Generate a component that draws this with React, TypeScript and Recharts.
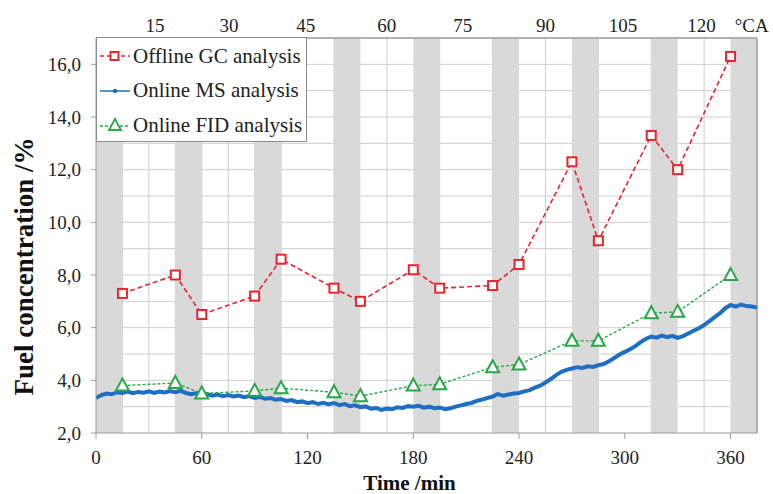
import React from 'react';
import {
  LineChart, Line, XAxis, YAxis, CartesianGrid, ReferenceArea, ReferenceLine, Legend,
} from 'recharts';

const FONT = '"Liberation Serif", "Times New Roman", serif';

// Offline GC and online FID sample times (min) and values (%)
const sampleTimes = [15, 45, 60, 90, 105, 135, 150, 180, 195, 225, 240, 270, 285, 315, 330, 360];
const gcValues = [7.3, 8.0, 6.5, 7.2, 8.6, 7.5, 7.0, 8.2, 7.5, 7.6, 8.4, 12.3, 9.3, 13.3, 12.0, 16.3];
const fidValues = [3.8, 3.9, 3.5, 3.6, 3.7, 3.55, 3.4, 3.8, 3.85, 4.5, 4.6, 5.5, 5.5, 6.55, 6.6, 8.0];

// Online MS continuous record
const msTimes = [
  0, 3, 6, 9, 12, 15, 18, 21, 24, 27, 30, 33, 36, 39, 42, 45, 48, 51, 54, 57,
  60, 63, 66, 69, 72, 75, 78, 81, 84, 87, 90, 93, 96, 99, 102, 105, 108, 111, 114, 117,
  120, 123, 126, 129, 132, 135, 138, 141, 144, 147, 150, 153, 156, 159, 162, 165, 168, 171, 174, 177,
  180, 183, 186, 189, 192, 195, 198, 201, 204, 207, 210, 213, 216, 219, 222, 225, 228, 231, 234, 237,
  240, 243, 246, 249, 252, 255, 258, 261, 264, 267, 270, 273, 276, 279, 282, 285, 288, 291, 294, 297,
  300, 303, 306, 309, 312, 315, 318, 321, 324, 327, 330, 333, 336, 339, 342, 345, 348, 351, 354, 357,
  360, 363, 366, 369, 372, 375,
];
const msValues = [
  3.33, 3.44, 3.50, 3.47, 3.55, 3.52, 3.57, 3.51, 3.56, 3.53, 3.58, 3.52, 3.57, 3.54, 3.59, 3.55, 3.60, 3.52, 3.47, 3.52,
  3.44, 3.48, 3.42, 3.46, 3.40, 3.44, 3.39, 3.42, 3.36, 3.40, 3.33, 3.37, 3.30, 3.33, 3.26, 3.29, 3.22, 3.25, 3.17, 3.20,
  3.13, 3.17, 3.10, 3.15, 3.09, 3.14, 3.06, 3.10, 3.02, 3.05, 2.98, 3.01, 2.92, 2.95, 2.88, 2.93, 2.90, 2.98, 2.95, 3.02,
  3.00, 3.03, 2.96, 3.00, 2.94, 2.97, 2.90, 2.94, 3.00, 3.05, 3.10, 3.14, 3.22, 3.27, 3.33, 3.38, 3.48, 3.42, 3.46, 3.50,
  3.52, 3.58, 3.63, 3.72, 3.80, 3.92, 4.05, 4.20, 4.32, 4.40, 4.45, 4.50, 4.47, 4.53, 4.51, 4.58, 4.62, 4.72, 4.85, 4.98,
  5.08, 5.18, 5.30, 5.45, 5.58, 5.66, 5.62, 5.70, 5.64, 5.69, 5.61, 5.68, 5.78, 5.88, 5.98, 6.10, 6.25, 6.40, 6.55, 6.74,
  6.86, 6.80, 6.88, 6.82, 6.80, 6.76,
];

// Axes
const timeTicks = [0, 60, 120, 180, 240, 300, 360];
const timeDomain = [0, 375];
const concTicks = [2, 4, 6, 8, 10, 12, 14, 16];
const concDomain = [2, 17];
const gridTimes = [15, 30, 45, 60, 75, 90, 105, 120, 135, 150, 165, 180, 195, 210, 225, 240, 255, 270, 285, 300, 315, 330, 345, 360, 375];
const gridConc = [3, 4, 5, 6, 7, 8, 9, 10, 11, 12, 13, 14, 15, 16, 17];

// Crank angle secondary scale (top)
const caTickTimes = [33.5, 75.5, 119, 165, 208, 255, 299, 343.5, 372];
const caTickLabels = ['15', '30', '45', '60', '75', '90', '105', '120', '°CA'];

// Shaded intervals (min)
const bandStarts = [0, 45, 90, 135, 180, 225, 270, 315, 360];
const bandEnds = [15, 60, 105, 150, 195, 240, 285, 330, 375];

const seriesNames = ['Offline GC analysis', 'Online MS analysis', 'Online FID analysis'];

const gcData = sampleTimes.map((t, i) => ({ t, v: gcValues[i] }));
const fidData = sampleTimes.map((t, i) => ({ t, v: fidValues[i] }));
const msData = msTimes.map((t, i) => ({ t, v: msValues[i] }));

const RED = '#e5262f';
const BLUE = '#1e6fc3';
const GREEN = '#26a847';

const SquareDot = (props: any) => {
  const { cx, cy } = props;
  if (cx == null || cy == null) return null;
  return <rect x={cx - 4.5} y={cy - 4.5} width={9} height={9} fill="#fff" stroke={RED} strokeWidth={2} />;
};

const TriangleDot = (props: any) => {
  const { cx, cy } = props;
  if (cx == null || cy == null) return null;
  return (
    <polygon
      points={`${cx},${cy - 7} ${cx - 6.5},${cy + 5} ${cx + 6.5},${cy + 5}`}
      fill="#fff"
      stroke={GREEN}
      strokeWidth={2}
    />
  );
};

const LegendIcon = ({ name }: { name: string }) => {
  if (name === seriesNames[0]) {
    return (
      <svg width={32} height={20}>
        <line x1={1} y1={10} x2={31} y2={10} stroke={RED} strokeWidth={1.5} strokeDasharray="4 3" />
        <rect x={11.5} y={6} width={8} height={8} fill="#fff" stroke={RED} strokeWidth={2} />
      </svg>
    );
  }
  if (name === seriesNames[1]) {
    return (
      <svg width={32} height={20}>
        <line x1={1} y1={10} x2={31} y2={10} stroke={BLUE} strokeWidth={1.5} />
        <circle cx={16} cy={10} r={2.2} fill={BLUE} />
      </svg>
    );
  }
  return (
    <svg width={32} height={20}>
      <line x1={1} y1={11} x2={31} y2={11} stroke={GREEN} strokeWidth={1.5} strokeDasharray="3 2" />
      <polygon points="16,4 10,15 22,15" fill="#fff" stroke={GREEN} strokeWidth={1.8} />
    </svg>
  );
};

const LegendBox = (props: any) => {
  const payload = (props.payload || []).slice().sort(
    (a: any, b: any) => seriesNames.indexOf(a.value) - seriesNames.indexOf(b.value),
  );
  return (
    <div
      style={{
        border: '1.5px solid #8c8c8c',
        background: '#fff',
        width: 211,
        height: 105,
        boxSizing: 'border-box',
        paddingTop: 1,
        paddingLeft: 2,
        fontFamily: FONT,
        fontSize: 21,
        color: '#222',
      }}
    >
      {payload.map((entry: any) => (
        <div key={entry.value} style={{ display: 'flex', alignItems: 'center', height: 34.5, whiteSpace: 'nowrap' }}>
          <LegendIcon name={entry.value} />
          <span style={{ marginLeft: 2 }}>{entry.value}</span>
        </div>
      ))}
    </div>
  );
};

const YTitle = (props: any) => {
  const vb = props.viewBox || { x: 0, y: 0, width: 0, height: 0 };
  const x = vb.x + 24;
  const y = vb.y + vb.height / 2 + 31;
  return (
    <text
      x={x}
      y={y}
      transform={`rotate(-90 ${x} ${y})`}
      textAnchor="middle"
      dominantBaseline="central"
      fontFamily={FONT}
      fontWeight="bold"
      fontSize={27}
      fill="#111"
    >
      Fuel concentration /%
    </text>
  );
};

const XTitle = (props: any) => {
  const vb = props.viewBox || { x: 0, y: 0, width: 0, height: 0 };
  return (
    <text
      x={vb.x + vb.width / 2 - 17}
      y={vb.y + 57}
      textAnchor="middle"
      fontFamily={FONT}
      fontWeight="bold"
      fontSize={21}
      fill="#111"
    >
      Time /min
    </text>
  );
};

export default function App() {
  return (
    <div style={{ position: 'absolute', left: 0, top: 0, width: 773, height: 494, background: '#fff' }}>
      <LineChart
        width={773}
        height={494}
        margin={{ top: 8, right: 16, bottom: 31, left: 0 }}
        style={{ fontFamily: FONT }}
      >
        {bandStarts.map((s, i) => (
          <ReferenceArea
            key={s}
            x1={s}
            x2={bandEnds[i]}
            y1={concDomain[0]}
            y2={concDomain[1]}
            fill="#d9d9d9"
            fillOpacity={1}
            stroke="none"
            ifOverflow="extendDomain"
          />
        ))}
        <CartesianGrid
          stroke="#cdcdcd"
          strokeWidth={1}
          horizontalValues={gridConc}
          verticalValues={gridTimes}
        />
        <XAxis
          dataKey="t"
          type="number"
          domain={timeDomain}
          ticks={timeTicks}
          allowDataOverflow
          height={30}
          stroke="#9a9a9a"
          tickSize={6}
          tickMargin={12}
          tick={{ fill: '#222', fontSize: 19, fontFamily: FONT }}
          label={{ content: <XTitle /> }}
        />
        <XAxis
          xAxisId="top"
          orientation="top"
          dataKey="t"
          type="number"
          domain={timeDomain}
          ticks={caTickTimes}
          tickFormatter={(v: number) => caTickLabels[caTickTimes.indexOf(v)]}
          interval={0}
          allowDataOverflow
          height={30}
          axisLine={false}
          tickLine={false}
          tickSize={0}
          tickMargin={6}
          tick={{ fill: '#222', fontSize: 19, fontFamily: FONT }}
        />
        <YAxis
          type="number"
          domain={concDomain}
          ticks={concTicks}
          allowDataOverflow
          width={96}
          stroke="#9a9a9a"
          tickSize={5}
          tickMargin={10}
          tickFormatter={(v: number) => v.toFixed(1).replace('.', ',')}
          tick={{ fill: '#222', fontSize: 19, fontFamily: FONT }}
          label={{ content: <YTitle /> }}
        />
        <ReferenceLine y={concDomain[1]} stroke="#a0a0a0" strokeWidth={1.5} />
        <ReferenceLine x={timeDomain[1]} stroke="#a0a0a0" strokeWidth={1.5} />
        <Legend
          layout="vertical"
          align="center"
          verticalAlign="middle"
          content={<LegendBox />}
          wrapperStyle={{ left: 96, top: 37, width: 211, height: 105 }}
        />
        <Line
          data={gcData}
          dataKey="v"
          name={seriesNames[0]}
          stroke={RED}
          strokeWidth={1.6}
          strokeDasharray="5 3"
          dot={<SquareDot />}
          activeDot={false}
          isAnimationActive={false}
        />
        <Line
          data={msData}
          dataKey="v"
          name={seriesNames[1]}
          stroke={BLUE}
          strokeWidth={4}
          dot={false}
          activeDot={false}
          isAnimationActive={false}
        />
        <Line
          data={fidData}
          dataKey="v"
          name={seriesNames[2]}
          stroke={GREEN}
          strokeWidth={1.4}
          strokeDasharray="3 2"
          dot={<TriangleDot />}
          activeDot={false}
          isAnimationActive={false}
        />
      </LineChart>
    </div>
  );
}
